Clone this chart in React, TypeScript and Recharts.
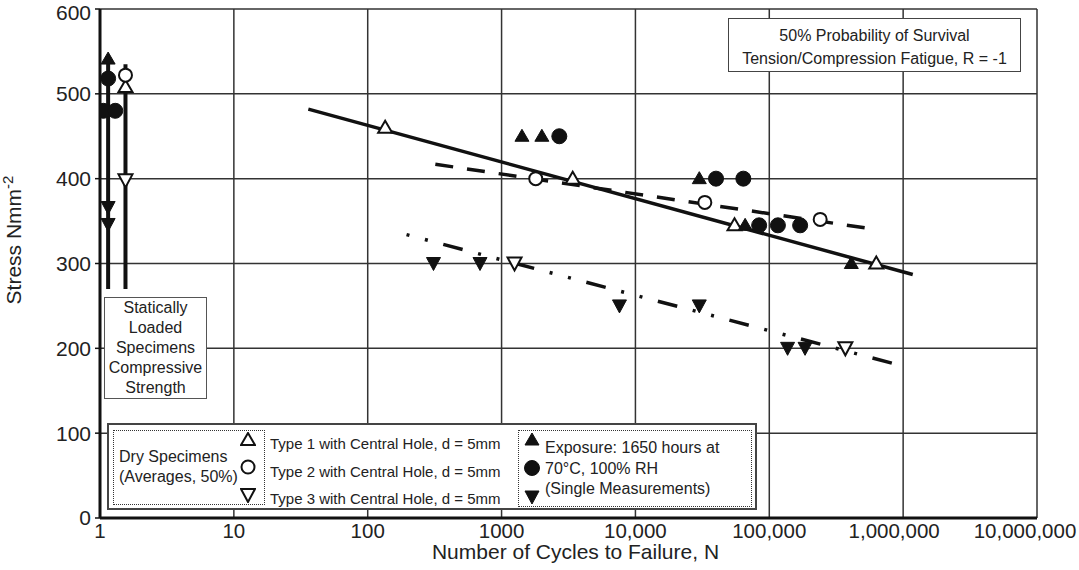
import { ScatterChart, Scatter, XAxis, YAxis, CartesianGrid } from 'recharts';

const X_TICKS = [1, 10, 100, 1000, 10000, 100000, 1000000, 10000000];
const X_TICK_LABELS = ['1', '10', '100', '1000', '10,000', '100,000', '1,000,000', '10,000,000'];
const Y_TICKS = [0, 100, 200, 300, 400, 500, 600];

// dry specimens (averages, 50%)
const dryType1 = [
  { n: 1.55, s: 508 },
  { n: 135, s: 460 },
  { n: 3400, s: 400 },
  { n: 55000, s: 345 },
  { n: 630000, s: 300 },
];
const dryType2 = [
  { n: 1.55, s: 522 },
  { n: 1800, s: 400 },
  { n: 33000, s: 372 },
  { n: 240000, s: 352 },
];
const dryType3 = [
  { n: 1.55, s: 398 },
  { n: 1250, s: 300 },
  { n: 370000, s: 200 },
];

// exposed 1650 h at 70°C (single measurements)
const wetType1 = [
  { n: 1.15, s: 541 },
  { n: 1420, s: 450 },
  { n: 2000, s: 450 },
  { n: 30000, s: 400 },
  { n: 66000, s: 345 },
  { n: 410000, s: 300 },
];
const wetType2 = [
  { n: 1.15, s: 518 },
  { n: 1.06, s: 480 },
  { n: 1.3, s: 480 },
  { n: 2700, s: 450 },
  { n: 40000, s: 400 },
  { n: 64000, s: 400 },
  { n: 84000, s: 345 },
  { n: 116000, s: 345 },
  { n: 170000, s: 345 },
];
const wetType3 = [
  { n: 1.15, s: 366 },
  { n: 1.15, s: 346 },
  { n: 310, s: 300 },
  { n: 690, s: 300 },
  { n: 7600, s: 250 },
  { n: 30000, s: 250 },
  { n: 137000, s: 200 },
  { n: 185000, s: 200 },
];

// static strength bars
const staticWet = [{ n: 1.15, s: 270 }, { n: 1.15, s: 540 }];
const staticDry = [{ n: 1.55, s: 270 }, { n: 1.55, s: 535 }];

// fitted S-N lines
const fitSolid = [{ n: 36, s: 482 }, { n: 1180000, s: 287 }];
const fitDashed = [{ n: 320, s: 417 }, { n: 520000, s: 342 }];
const fitDashDot = [{ n: 195, s: 334 }, { n: 850000, s: 182 }];

const INK = '#111';
const FONT = 'Arial, "Liberation Sans", sans-serif';

const triUp = (filled: boolean) => (p: any) => (
  <polygon
    points={`${p.cx},${p.cy - 7} ${p.cx + 7},${p.cy + 5} ${p.cx - 7},${p.cy + 5}`}
    fill={filled ? INK : '#fff'}
    stroke={INK}
    strokeWidth={filled ? 1 : 2}
  />
);
const triDown = (filled: boolean) => (p: any) => (
  <polygon
    points={`${p.cx - 7},${p.cy - 6} ${p.cx + 7},${p.cy - 6} ${p.cx},${p.cy + 7}`}
    fill={filled ? INK : '#fff'}
    stroke={INK}
    strokeWidth={filled ? 1 : 2}
  />
);
const circ = (filled: boolean) => (p: any) => (
  <circle cx={p.cx} cy={p.cy} r={filled ? 7.5 : 6.5} fill={filled ? INK : '#fff'} stroke={INK} strokeWidth={filled ? 1 : 2} />
);
const noShape = () => <g />;

function Mark({ kind, filled }: { kind: 'up' | 'down' | 'circle'; filled: boolean }) {
  const p = { cx: 8, cy: 8 };
  return (
    <svg width={16} height={16} style={{ display: 'block' }}>
      {kind === 'up' ? triUp(filled)(p) : kind === 'down' ? triDown(filled)(p) : circ(filled)(p)}
    </svg>
  );
}

// the two widest labels sit a little left of their grid line
function XTick(props: any) {
  const { x, y, payload } = props;
  const i = X_TICKS.indexOf(payload.value);
  const shift = payload.value === 10000000 ? -12 : payload.value === 1000000 ? -9 : 0;
  return (
    <text x={x + shift} y={y + 20} textAnchor="middle" fontSize={20.5} fill="#222" fontFamily={FONT}>
      {X_TICK_LABELS[i]}
    </text>
  );
}

const abs = (left: number, top: number, extra: any = {}) => ({ position: 'absolute' as const, left, top, ...extra });

export default function App() {
  return (
    <div style={{ position: 'absolute', left: 0, top: 0, width: 1079, height: 570, background: '#fff', fontFamily: FONT, color: '#222' }}>
      <ScatterChart width={1079} height={570} margin={{ top: 9, right: 42, left: 0, bottom: 0 }}>
        <CartesianGrid stroke="#333" strokeWidth={1.5} />
        <XAxis
          dataKey="n"
          type="number"
          scale="log"
          domain={[1, 10000000]}
          ticks={X_TICKS}
          allowDataOverflow
          height={52}
          tick={<XTick />}
          tickSize={0}
          tickMargin={0}
          axisLine={{ stroke: INK, strokeWidth: 3 }}
          tickLine={false}
          label={(props: any) => {
            const vb = props.viewBox;
            return (
              <text x={vb.x + vb.width / 2 + 7} y={559} textAnchor="middle" fontSize={21} fill="#222" fontFamily={FONT}>
                Number of Cycles to Failure, N
              </text>
            );
          }}
        />
        <YAxis
          dataKey="s"
          type="number"
          domain={[0, 600]}
          ticks={Y_TICKS}
          width={100}
          tick={{ fontSize: 21, fill: '#222', fontFamily: FONT }}
          tickSize={5}
          tickMargin={4}
          axisLine={{ stroke: INK, strokeWidth: 3 }}
          tickLine={{ stroke: INK, strokeWidth: 1.5 }}
          label={() => (
            <text x={0} y={0} transform="translate(21,240) rotate(-90)" textAnchor="middle" fontSize={21} fill="#222" fontFamily={FONT}>
              Stress Nmm<tspan fontSize={15} dy={-8}>-2</tspan>
            </text>
          )}
        />

        <Scatter data={staticWet} shape={noShape} line={{ stroke: INK, strokeWidth: 4 }} isAnimationActive={false} />
        <Scatter data={staticDry} shape={noShape} line={{ stroke: INK, strokeWidth: 4 }} isAnimationActive={false} />
        <Scatter data={fitSolid} shape={noShape} line={{ stroke: INK, strokeWidth: 3.5 }} isAnimationActive={false} />
        <Scatter data={fitDashed} shape={noShape} line={{ stroke: INK, strokeWidth: 3.5, strokeDasharray: '18 14' }} isAnimationActive={false} />
        <Scatter
          data={fitDashDot}
          shape={noShape}
          line={{ stroke: INK, strokeWidth: 3.5, strokeDasharray: '3 16 3 16 20 16' }}
          isAnimationActive={false}
        />

        <Scatter data={dryType1} shape={triUp(false)} isAnimationActive={false} />
        <Scatter data={dryType2} shape={circ(false)} isAnimationActive={false} />
        <Scatter data={dryType3} shape={triDown(false)} isAnimationActive={false} />
        <Scatter data={wetType1} shape={triUp(true)} isAnimationActive={false} />
        <Scatter data={wetType2} shape={circ(true)} isAnimationActive={false} />
        <Scatter data={wetType3} shape={triDown(true)} isAnimationActive={false} />
      </ScatterChart>

      {/* title box */}
      <div
        style={abs(728, 18, {
          width: 293,
          height: 54,
          border: '1.5px solid #444',
          background: '#fff',
          textAlign: 'center',
          fontSize: 16,
          lineHeight: '23px',
          paddingTop: 5,
          boxSizing: 'border-box',
        })}
      >
        50% Probability of Survival
        <br />
        Tension/Compression Fatigue, R = -1
      </div>

      {/* static strength note */}
      <div
        style={abs(104, 297, {
          width: 103,
          height: 102,
          border: '1.5px solid #555',
          background: '#fff',
          textAlign: 'center',
          fontSize: 16,
          lineHeight: '20px',
          paddingTop: 0,
          boxSizing: 'border-box',
        })}
      >
        Statically
        <br />
        Loaded
        <br />
        Specimens
        <br />
        Compressive
        <br />
        Strength
      </div>

      {/* legend */}
      <div style={abs(107, 423, { width: 650, height: 87, border: '2px solid #444', background: '#fff', boxSizing: 'border-box' })} />
      <div style={abs(113, 430, { width: 152, height: 75, border: '1.5px dotted #333', boxSizing: 'border-box' })} />
      <div style={abs(119, 447, { fontSize: 16, lineHeight: '20px', whiteSpace: 'nowrap' })}>
        Dry Specimens
        <br />
        (Averages, 50%)
      </div>
      <div style={abs(240, 432)}><Mark kind="up" filled={false} /></div>
      <div style={abs(240, 459)}><Mark kind="circle" filled={false} /></div>
      <div style={abs(240, 487)}><Mark kind="down" filled={false} /></div>
      <div style={abs(270, 430, { fontSize: 15, lineHeight: '27.5px', whiteSpace: 'nowrap' })}>
        Type 1 with Central Hole, d = 5mm
        <br />
        Type 2 with Central Hole, d = 5mm
        <br />
        Type 3 with Central Hole, d = 5mm
      </div>
      <div style={abs(518, 430, { width: 234, height: 77, border: '1.5px dotted #333', boxSizing: 'border-box' })} />
      <div style={abs(524, 432)}><Mark kind="up" filled /></div>
      <div style={abs(524, 460)}><Mark kind="circle" filled /></div>
      <div style={abs(524, 489)}><Mark kind="down" filled /></div>
      <div style={abs(545, 438, { fontSize: 16, lineHeight: '20.5px', whiteSpace: 'nowrap' })}>
        Exposure: 1650 hours at
        <br />
        70°C, 100% RH
        <br />
        (Single Measurements)
      </div>
    </div>
  );
}
